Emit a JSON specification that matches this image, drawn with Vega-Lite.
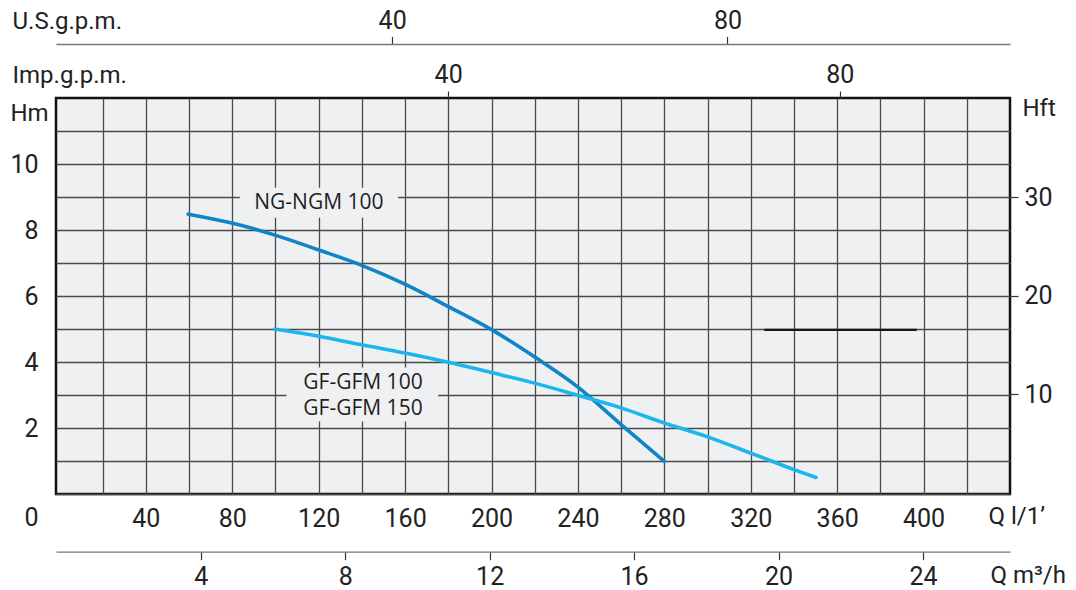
{
  "$schema": "https://vega.github.io/schema/vega-lite/v6.json",
  "width": 954,
  "height": 396,
  "autosize": {"type": "none"},
  "padding": {"left": 56, "top": 98, "right": 66, "bottom": 96},
  "background": "white",
  "config": {
    "view": {"fill": "#eff0f2", "stroke": "#111111", "strokeWidth": 2.5},
    "axis": {
      "labelFont": "Roboto", "labelFontSize": 25, "labelColor": "#222222",
      "titleFont": "Roboto", "titleFontSize": 24, "titleFontWeight": "normal", "titleColor": "#222222",
      "gridColor": "#4a4a4a", "gridWidth": 1.3, "gridOpacity": 1
    }
  },
  "datasets": {
    "curves": [
      {"series": "NG-NGM 100", "q": 59.6, "h": 8.48},
      {"series": "NG-NGM 100", "q": 79.8, "h": 8.21},
      {"series": "NG-NGM 100", "q": 100.5, "h": 7.83},
      {"series": "NG-NGM 100", "q": 119.8, "h": 7.40},
      {"series": "NG-NGM 100", "q": 139.9, "h": 6.93},
      {"series": "NG-NGM 100", "q": 159.9, "h": 6.36},
      {"series": "NG-NGM 100", "q": 180, "h": 5.68},
      {"series": "NG-NGM 100", "q": 200, "h": 4.98},
      {"series": "NG-NGM 100", "q": 220, "h": 4.15},
      {"series": "NG-NGM 100", "q": 240, "h": 3.24},
      {"series": "NG-NGM 100", "q": 260, "h": 2.10},
      {"series": "NG-NGM 100", "q": 280, "h": 0.99},
      {"series": "GF-GFM 100 / 150", "q": 99.7, "h": 5.0},
      {"series": "GF-GFM 100 / 150", "q": 120, "h": 4.78},
      {"series": "GF-GFM 100 / 150", "q": 140, "h": 4.52},
      {"series": "GF-GFM 100 / 150", "q": 160, "h": 4.27},
      {"series": "GF-GFM 100 / 150", "q": 180, "h": 3.99},
      {"series": "GF-GFM 100 / 150", "q": 200, "h": 3.68},
      {"series": "GF-GFM 100 / 150", "q": 220, "h": 3.36},
      {"series": "GF-GFM 100 / 150", "q": 240, "h": 2.99},
      {"series": "GF-GFM 100 / 150", "q": 260, "h": 2.61},
      {"series": "GF-GFM 100 / 150", "q": 280, "h": 2.15},
      {"series": "GF-GFM 100 / 150", "q": 300, "h": 1.73},
      {"series": "GF-GFM 100 / 150", "q": 320, "h": 1.24},
      {"series": "GF-GFM 100 / 150", "q": 340, "h": 0.74},
      {"series": "GF-GFM 100 / 150", "q": 350.2, "h": 0.50}
    ],
    "marker": [
      {"q": 326.3, "h": 4.975},
      {"q": 396.8, "h": 4.975}
    ],
    "boxes": [
      {"x1": 83.5, "x2": 156.7, "y1": 8.37, "y2": 9.28},
      {"x1": 105.1, "x2": 175.3, "y1": 2.20, "y2": 3.83}
    ],
    "labels": [
      {"q": 120.1, "h": 8.81, "text": "NG-NGM 100"},
      {"q": 140.5, "h": 3.37, "text": "GF-GFM 100"},
      {"q": 140.5, "h": 2.57, "text": "GF-GFM 150"}
    ],
    "usgpm": [{"usgpm": 40}, {"usgpm": 80}],
    "impgpm": [{"impgpm": 40}, {"impgpm": 80}],
    "m3h": [{"m3h": 4}, {"m3h": 8}, {"m3h": 12}, {"m3h": 16}, {"m3h": 20}, {"m3h": 24}],
    "hft": [{"hft": 10}, {"hft": 20}, {"hft": 30}]
  },
  "layer": [
    {
      "data": {"name": "boxes"},
      "mark": {"type": "rect", "fill": "#eff0f2"},
      "encoding": {
        "x": {"field": "x1", "type": "quantitative", "scale": {"domain": [-1.6, 440], "nice": false, "zero": false}, "axis": null},
        "x2": {"field": "x2"},
        "y": {"field": "y1", "type": "quantitative", "scale": {"domain": [0, 12], "nice": false, "zero": false}, "axis": null},
        "y2": {"field": "y2"}
      }
    },
    {
      "data": {"name": "labels"},
      "mark": {"type": "text", "font": "Open Sans", "fontSize": 21, "color": "#1e1e1e", "baseline": "middle", "align": "center"},
      "encoding": {
        "x": {"field": "q", "type": "quantitative", "scale": {"domain": [-1.6, 440], "nice": false, "zero": false}, "axis": null},
        "y": {"field": "h", "type": "quantitative", "scale": {"domain": [0, 12], "nice": false, "zero": false}, "axis": null},
        "text": {"field": "text"}
      }
    },
    {
      "data": {"name": "marker"},
      "mark": {"type": "line", "color": "#151515", "strokeWidth": 2.2},
      "encoding": {
        "x": {"field": "q", "type": "quantitative", "scale": {"domain": [-1.6, 440], "nice": false, "zero": false}, "axis": null},
        "y": {"field": "h", "type": "quantitative", "scale": {"domain": [0, 12], "nice": false, "zero": false}, "axis": null}
      }
    },
    {
      "data": {"name": "curves"},
      "mark": {"type": "line", "interpolate": "monotone", "strokeCap": "round", "strokeWidth": 3.6},
      "encoding": {
        "x": {
          "field": "q", "type": "quantitative",
          "scale": {"domain": [-1.6, 440], "nice": false, "zero": false},
          "axis": {
            "orient": "bottom",
            "values": [20, 40, 60, 80, 100, 120, 140, 160, 180, 200, 220, 240, 260, 280, 300, 320, 340, 360, 380, 400, 420],
            "grid": true, "ticks": false, "domain": false,
            "labelExpr": "datum.value % 40 === 0 ? datum.label : ''",
            "labelPadding": 12,
            "title": "Q  l/1’", "titleX": 932, "titleY": 29, "titleAlign": "left", "titleBaseline": "alphabetic", "titleAngle": 0
          }
        },
        "y": {
          "field": "h", "type": "quantitative",
          "scale": {"domain": [0, 12], "nice": false, "zero": false},
          "axis": {
            "orient": "left",
            "values": [0, 1, 2, 3, 4, 5, 6, 7, 8, 9, 10, 11],
            "grid": true, "ticks": false, "domain": false,
            "labelExpr": "datum.value % 2 === 0 ? datum.label : ''",
            "labelPadding": 18,
            "labelOffset": {"condition": {"test": "datum.value === 0", "value": 23}, "value": 0},
            "title": "Hm", "titleX": -46, "titleY": 22, "titleAlign": "left", "titleBaseline": "alphabetic", "titleAngle": 0
          }
        },
        "color": {
          "field": "series", "type": "nominal",
          "scale": {"domain": ["NG-NGM 100", "GF-GFM 100 / 150"], "range": ["#0f84c7", "#1cb6ef"]},
          "legend": null
        }
      }
    },
    {
      "data": {"name": "usgpm"},
      "mark": {"type": "rule", "opacity": 0},
      "encoding": {
        "x": {
          "field": "usgpm", "type": "quantitative",
          "scale": {"domain": [-0.1, 113.7], "nice": false, "zero": false},
          "axis": {
            "orient": "top", "offset": 54, "values": [40, 80],
            "grid": false, "domain": true, "domainColor": "#777777", "domainWidth": 1.3,
            "ticks": true, "tickSize": 7.5, "tickColor": "#333333", "tickWidth": 1.2,
            "labelPadding": 3,
            "title": "U.S.g.p.m.", "titleX": -44, "titleY": -16, "titleAlign": "left", "titleBaseline": "alphabetic", "titleAngle": 0
          }
        }
      }
    },
    {
      "data": {"name": "impgpm"},
      "mark": {"type": "rule", "opacity": 0},
      "encoding": {
        "x": {
          "field": "impgpm", "type": "quantitative",
          "scale": {"domain": [-0.06, 97.4], "nice": false, "zero": false},
          "axis": {
            "orient": "top", "offset": 0, "values": [40, 80],
            "grid": false, "domain": false,
            "ticks": true, "tickSize": 7, "tickColor": "#333333", "tickWidth": 1.2,
            "labelPadding": 4,
            "title": "Imp.g.p.m.", "titleX": -44, "titleY": -16, "titleAlign": "left", "titleBaseline": "alphabetic", "titleAngle": 0
          }
        }
      }
    },
    {
      "data": {"name": "m3h"},
      "mark": {"type": "rule", "opacity": 0},
      "encoding": {
        "x": {
          "field": "m3h", "type": "quantitative",
          "scale": {"domain": [-0.01, 26.41], "nice": false, "zero": false},
          "axis": {
            "orient": "bottom", "offset": 57.7, "values": [4, 8, 12, 16, 20, 24],
            "grid": false, "domain": true, "domainColor": "#777777", "domainWidth": 1.3,
            "ticks": true, "tickSize": 8, "tickColor": "#333333", "tickWidth": 1.2,
            "labelPadding": 5,
            "title": "Q  m³/h", "titleX": 934, "titleY": 31, "titleAlign": "left", "titleBaseline": "alphabetic", "titleAngle": 0
          }
        }
      }
    },
    {
      "data": {"name": "hft"},
      "mark": {"type": "rule", "opacity": 0},
      "encoding": {
        "y": {
          "field": "hft", "type": "quantitative",
          "scale": {"domain": [-0.15, 40.1], "nice": false, "zero": false},
          "axis": {
            "orient": "right", "offset": 0, "values": [10, 20, 30],
            "grid": false, "domain": false,
            "ticks": true, "tickSize": 8, "tickColor": "#333333", "tickWidth": 1.2,
            "labelPadding": 6,
            "title": "Hft", "titleX": 12, "titleY": 17, "titleAlign": "left", "titleBaseline": "alphabetic", "titleAngle": 0
          }
        }
      }
    }
  ],
  "resolve": {
    "scale": {"x": "independent", "y": "independent", "color": "independent"},
    "axis": {"x": "independent", "y": "independent"}
  }
}
